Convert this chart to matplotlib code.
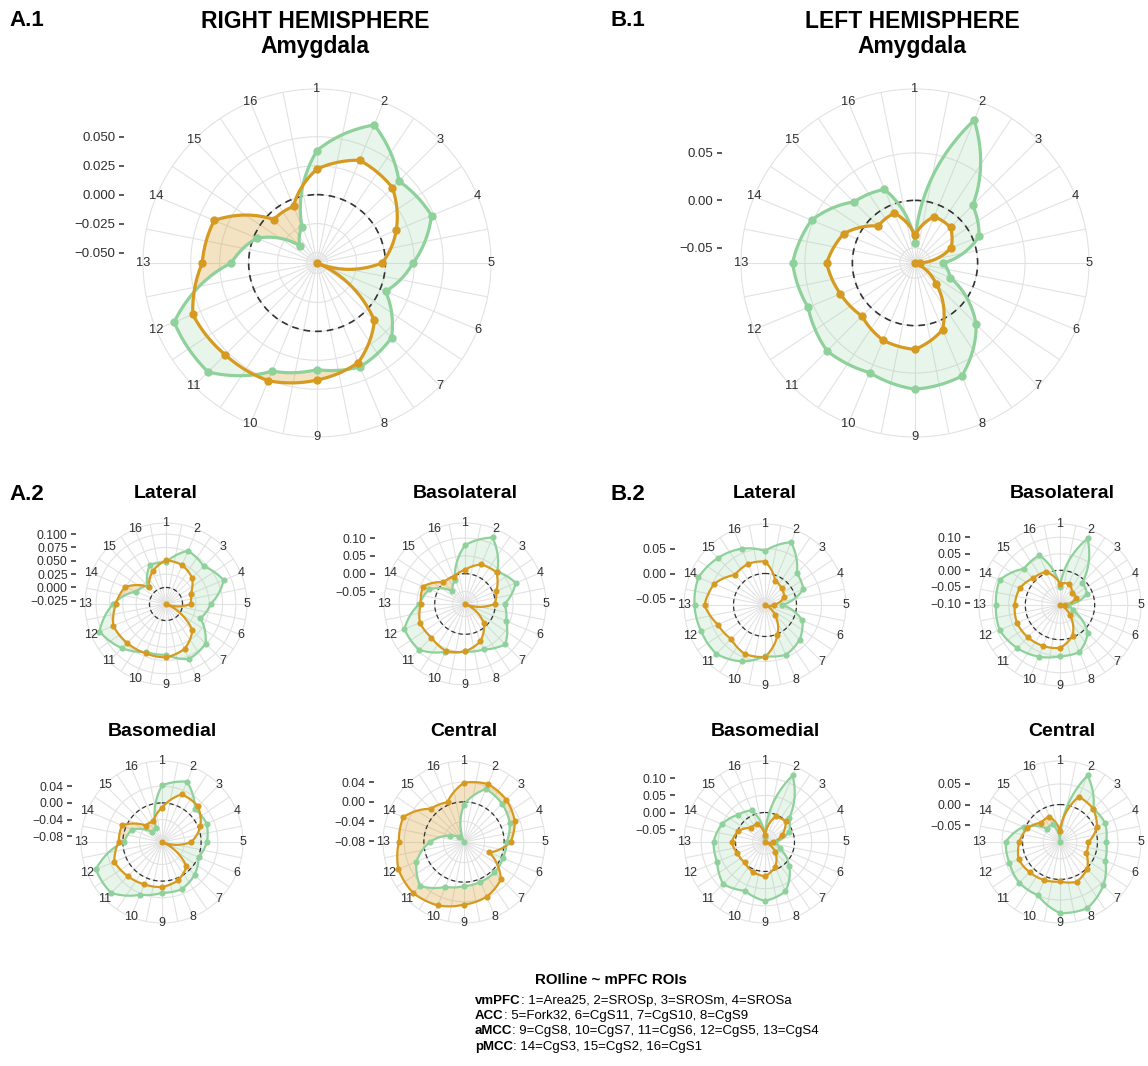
import numpy as np
import matplotlib.pyplot as plt

plt.rcParams['font.family'] = ['Liberation Sans', 'DejaVu Sans']

W, H = 1148, 1066

rois = list(range(1, 17))

# right hemisphere
rh_amy_green = [0.038, 0.070, 0.041, 0.048, 0.024, 0.005, 0.032, 0.038, 0.033, 0.042, 0.074, 0.0745, 0.015, -0.003, -0.038, -0.025]
rh_amy_orange = [0.022, 0.037, 0.033, 0.015, -0.003, -0.059, 0.011, 0.034, 0.042, 0.051, 0.053, 0.057, 0.040, 0.037, -0.006, -0.006]
rh_lat_green = [0.047, 0.077, 0.069, 0.086, 0.053, 0.039, 0.074, 0.081, 0.064, 0.066, 0.086, 0.104, 0.068, 0.030, 0.018, 0.048]
rh_lat_orange = [0.051, 0.048, 0.038, 0.019, 0.015, -0.031, 0.039, 0.060, 0.069, 0.069, 0.072, 0.076, 0.063, 0.052, 0.014, 0.035]
rh_bla_green = [0.080, 0.117, 0.043, 0.069, 0.026, 0.040, 0.075, 0.053, 0.048, 0.060, 0.097, 0.099, 0.043, 0.023, -0.034, -0.012]
rh_bla_orange = [0.011, 0.035, 0.040, 0.010, -0.002, -0.085, -0.010, 0.028, 0.048, 0.057, 0.048, 0.052, 0.039, 0.043, 0.001, -0.002]
rh_bm_green = [0.042, 0.063, 0.018, 0.022, 0.014, 0.001, 0.017, 0.029, 0.028, 0.043, 0.079, 0.078, -0.003, -0.016, -0.061, -0.057]
rh_bm_orange = [-0.012, 0.030, 0.028, 0.006, -0.024, -0.094, -0.011, 0.006, 0.014, 0.016, 0.022, 0.030, 0.010, 0.010, -0.038, -0.040]
rh_ce_green = [-0.006, 0.035, 0.028, 0.019, 0.005, 0.004, 0.006, 0.006, 0.008, 0.017, 0.045, 0.023, -0.013, -0.050, -0.068, -0.082]
rh_ce_orange = [0.039, 0.046, 0.040, 0.030, 0.013, -0.026, 0.025, 0.039, 0.046, 0.058, 0.065, 0.063, 0.051, 0.052, 0.014, 0.006]

# left hemisphere
lh_amy_green = [-0.045, 0.097, 0.020, 0.007, -0.036, -0.026, 0.025, 0.063, 0.067, 0.059, 0.065, 0.056, 0.063, 0.052, 0.025, 0.018]
lh_amy_orange = [-0.037, -0.013, -0.013, -0.025, -0.061, -0.066, -0.034, 0.010, 0.025, 0.022, 0.013, 0.019, 0.027, 0.015, -0.011, -0.009]
lh_lat_green = [0.045, 0.073, 0.027, 0.020, -0.029, 0.018, 0.035, 0.045, 0.039, 0.059, 0.075, 0.075, 0.078, 0.081, 0.070, 0.059]
lh_lat_orange = [0.024, -0.010, -0.016, -0.021, -0.045, -0.063, -0.035, 0.002, 0.041, 0.043, 0.033, 0.039, 0.058, 0.047, 0.022, 0.026]
lh_bla_green = [-0.050, 0.113, -0.010, -0.016, -0.081, -0.064, 0.014, 0.049, 0.050, 0.064, 0.079, 0.093, 0.089, 0.093, 0.050, 0.058]
lh_bla_orange = [-0.040, -0.035, -0.052, -0.052, -0.090, -0.105, -0.063, -0.005, 0.025, 0.029, 0.033, 0.036, 0.032, 0.027, 0.010, 0.004]
lh_bm_green = [-0.070, 0.124, 0.014, -0.011, -0.057, -0.040, 0.014, 0.070, 0.086, 0.068, 0.087, 0.065, 0.064, 0.050, 0.026, 0.014]
lh_bm_orange = [-0.067, -0.005, -0.001, -0.032, -0.062, -0.086, -0.043, -0.008, 0.014, 0.008, -0.002, 0.001, 0.011, -0.002, -0.028, -0.028]
lh_ce_green = [-0.091, 0.084, 0.023, 0.028, 0.021, 0.028, 0.058, 0.083, 0.082, 0.049, 0.049, 0.042, 0.041, 0.005, -0.046, -0.044]
lh_ce_orange = [-0.065, 0.028, 0.023, 0.006, -0.022, -0.022, 0.002, 0.014, 0.005, 0.009, 0.013, 0.018, 0.008, -0.005, -0.025, -0.024]

caption_groups = ['vmPFC', 'ACC', 'aMCC', 'pMCC']
caption_items = [': 1=Area25, 2=SROSp, 3=SROSm, 4=SROSa',
                 ': 5=Fork32, 6=CgS11, 7=CgS10, 8=CgS9',
                 ': 9=CgS8, 10=CgS7, 11=CgS6, 12=CgS5, 13=CgS4',
                 ': 14=CgS3, 15=CgS2, 16=CgS1']

GREEN = '#8fd19b'
ORANGE = '#d69a20'
GRID = '#e2e2e2'
TXT = '#2e2e2e'

theta = np.arange(16) * 2 * np.pi / 16

fig = plt.figure(figsize=(W / 100, H / 100), dpi=100)


def munch(paths, n=40):
    # bend straight segments the way coord_polar does
    for p in paths:
        p._interpolation_steps = n


def ribbon(ax, tc, lo, hi, mask, **kw):
    f = ax.fill_between(tc, lo, hi, where=mask, interpolate=True, lw=0, **kw)
    # close every polygon with an explicit segment so that it gets bent too
    verts = [np.vstack([p.vertices[:-1], p.vertices[:1]]) for p in f.get_paths()]
    f.set_verts(verts, closed=False)
    munch(f.get_paths())
    return f


def radar(cx, cy, R, green, orange, breaks, fmt, big):
    g = np.array(green)
    o = np.array(orange)
    rmin = min(g.min(), o.min())
    rmax = max(g.max(), o.max())
    span = rmax - rmin
    rtop = rmin + span * 0.45 / 0.4
    lw = 2.3 if big else 1.6
    ms = 5 if big else 3.4

    ax = fig.add_axes([(cx - R) / W, 1 - (cy + R) / H, 2 * R / W, 2 * R / H], projection='polar')
    ax.set_theta_zero_location('N')
    ax.set_theta_direction(-1)
    ax.set_ylim(rmin, rtop)
    ax.set_xticks(theta)
    ax.set_xticks(theta + np.pi / 16, minor=True)
    ax.set_xticklabels([])
    ax.set_yticks(breaks)
    ax.set_yticklabels([])
    ax.tick_params(axis='both', which='both', length=0)
    ax.grid(True, which='both', color=GRID, lw=0.8)
    ax.spines['polar'].set_color(GRID)
    ax.spines['polar'].set_linewidth(0.8)
    ax.set_axisbelow(True)

    tc = np.append(theta, 2 * np.pi)
    gc = np.append(g, g[0])
    oc = np.append(o, o[0])
    ribbon(ax, tc, oc, gc, gc >= oc, color=GREEN, alpha=0.2)
    ribbon(ax, tc, oc, gc, gc < oc, color=ORANGE, alpha=0.27)

    zl, = ax.plot(tc, np.zeros(len(tc)), color='#333333', lw=1.2 if big else 0.9,
                  dashes=(4, 3) if big else (3.5, 2.5), zorder=2)
    gl, = ax.plot(tc, gc, color=GREEN, lw=lw, zorder=3)
    ol, = ax.plot(tc, oc, color=ORANGE, lw=lw, zorder=3.5)
    munch([zl.get_path(), gl.get_path(), ol.get_path()])
    ax.plot(theta, g, 'o', color=GREEN, ms=ms, zorder=4)
    ax.plot(theta, o, 'o', color=ORANGE, ms=ms, zorder=4.5)

    for t, k in zip(theta, rois):
        ax.text(t, rtop, str(k), ha='center', va='center', fontsize=9.3 if big else 9,
                color=TXT, clip_on=False, zorder=6)

    # radial axis drawn at the left edge of the square panel
    P = R / 0.9
    ay = fig.add_axes([(cx - P) / W, 1 - (cy + P) / H, 2 * P / W, 2 * P / H])
    ay.set_ylim(rmin - 1.25 * span, rmin + 1.25 * span)
    ay.set_yticks(breaks)
    ay.set_yticklabels([fmt.format(b).replace('-', '\u2212') for b in breaks])
    ay.set_xticks([])
    for s in ay.spines.values():
        s.set_visible(False)
    ay.patch.set_alpha(0)
    ay.tick_params(axis='y', length=3.5, width=1.1, colors=TXT, pad=2.5,
                   labelsize=9.5 if big else 8.7)
    ay.set_zorder(ax.get_zorder() - 1)


radar(317, 263, 174, rh_amy_green, rh_amy_orange, [-0.05, -0.025, 0, 0.025, 0.05], '{:.3f}', True)
radar(915, 263, 174, lh_amy_green, lh_amy_orange, [-0.05, 0, 0.05], '{:.2f}', True)

radar(166, 604, 81, rh_lat_green, rh_lat_orange, [-0.025, 0, 0.025, 0.05, 0.075, 0.1], '{:.3f}', False)
radar(465, 604, 81, rh_bla_green, rh_bla_orange, [-0.05, 0, 0.05, 0.1], '{:.2f}', False)
radar(162, 842, 81, rh_bm_green, rh_bm_orange, [-0.08, -0.04, 0, 0.04], '{:.2f}', False)
radar(464, 842, 81, rh_ce_green, rh_ce_orange, [-0.08, -0.04, 0, 0.04], '{:.2f}', False)

radar(765, 605, 81, lh_lat_green, lh_lat_orange, [-0.05, 0, 0.05], '{:.2f}', False)
radar(1060, 605, 81, lh_bla_green, lh_bla_orange, [-0.1, -0.05, 0, 0.05, 0.1], '{:.2f}', False)
radar(765, 842, 81, lh_bm_green, lh_bm_orange, [-0.05, 0, 0.05, 0.1], '{:.2f}', False)
radar(1060, 842, 81, lh_ce_green, lh_ce_orange, [-0.05, 0, 0.05], '{:.2f}', False)


def ftext(x, y, s, **kw):
    return fig.text(x / W, 1 - y / H, s, **kw)


ftext(315, 21, 'RIGHT HEMISPHERE', ha='center', va='center', fontsize=16.5, fontweight='bold')
ftext(315, 47, 'Amygdala', ha='center', va='center', fontsize=16.5, fontweight='bold')
ftext(912, 21, 'LEFT HEMISPHERE', ha='center', va='center', fontsize=16.5, fontweight='bold')
ftext(912, 47, 'Amygdala', ha='center', va='center', fontsize=16.5, fontweight='bold')
ftext(9, 21, 'A.1', ha='left', va='center', fontsize=16, fontweight='bold')
ftext(611, 21, 'B.1', ha='left', va='center', fontsize=16, fontweight='bold')
ftext(9, 494, 'A.2', ha='left', va='center', fontsize=16, fontweight='bold')
ftext(611, 494, 'B.2', ha='left', va='center', fontsize=16, fontweight='bold')

for x, y, s in [(166, 494, 'Lateral'), (465, 494, 'Basolateral'),
                (162, 732, 'Basomedial'), (464, 732, 'Central'),
                (765, 494, 'Lateral'), (1062, 494, 'Basolateral'),
                (765, 732, 'Basomedial'), (1062, 732, 'Central')]:
    ftext(x, y, s, ha='center', va='center', fontsize=14, fontweight='bold')

# caption
ftext(611, 980, 'ROIline ~ mPFC ROIs', ha='center', va='center', fontsize=10.8, fontweight='bold')
for i, (grp, items) in enumerate(zip(caption_groups, caption_items)):
    y = 1000.7 + i * 15.3
    t = ftext(475, y + 6, grp, ha='left', va='bottom', fontsize=9.5, fontweight='bold')
    plt.annotate(items, xy=(1, 0), xycoords=t, ha='left', va='bottom', fontsize=9.5,
                 annotation_clip=False)

fig.savefig('out.png', dpi=100, facecolor='white')
